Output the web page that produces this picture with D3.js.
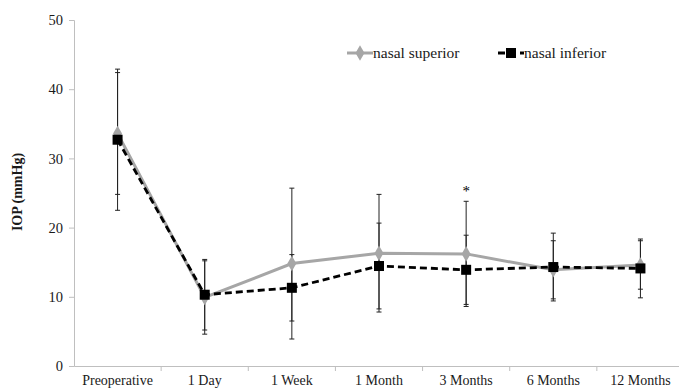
<!DOCTYPE html>
<html>
<head>
<meta charset="utf-8">
<script src="https://cdn.jsdelivr.net/npm/d3@7"></script>
<style>
  html, body { margin: 0; padding: 0; background: #fff; }
  svg { display: block; }
  svg text { font-family: "Liberation Serif", "Times New Roman", "DejaVu Serif", serif !important; }
</style>
</head>
<body>
<svg id="chart" width="679" height="390"></svg>
<script>
// IOP follow-up, mean ± SD per time point
const categories = ["Preoperative", "1 Day", "1 Week", "1 Month", "3 Months", "6 Months", "12 Months"];
const superiorMean = [33.6, 9.9, 14.8, 16.3, 16.2, 13.9, 14.6];
const superiorSD   = [8.8, 5.3, 10.9, 8.5, 7.6, 4.2, 3.5];
const inferiorMean = [32.7, 10.3, 11.3, 14.45, 13.9, 14.3, 14.1];
const inferiorSD   = [10.2, 5.1, 4.8, 6.2, 5.0, 4.9, 4.25];
const yTicks = [0, 10, 20, 30, 40, 50];
const significant = ["3 Months"];
const seriesNames = ["nasal superior", "nasal inferior"];

const svg = d3.select("#chart");
const plotLeft = 74, plotTop = 20, plotBottom = 366, plotRight = 684;

const x = d3.scaleBand().domain(categories).range([plotLeft, plotRight]).paddingInner(0).paddingOuter(0);
const y = d3.scaleLinear().domain([0, 50]).range([plotBottom, plotTop]);
const cx = c => x(c) + x.bandwidth() / 2;

const axisColor = "#bfbfbf";
const textColor = "#1a1a1a";

// y axis
const gy = svg.append("g").attr("transform", `translate(${plotLeft},0)`)
  .call(d3.axisLeft(y).tickValues(yTicks).tickSize(5).tickPadding(6));
gy.select(".domain").attr("stroke", axisColor).attr("stroke-width", 1);
gy.selectAll(".tick line").attr("stroke", axisColor);
gy.selectAll(".tick text").attr("fill", textColor).attr("font-size", 14.5);

// x axis: ticks on category boundaries
const gx = svg.append("g").attr("transform", `translate(0,${plotBottom})`)
  .call(d3.axisBottom(x).tickSize(0).tickPadding(9));
gx.select(".domain").attr("stroke", axisColor).attr("stroke-width", 1);
gx.selectAll(".tick text").attr("fill", textColor).attr("font-size", 14);
gx.selectAll(".boundary").data(categories.slice(1)).enter().append("line")
  .attr("x1", d => x(d)).attr("x2", d => x(d)).attr("y1", 0).attr("y2", 5)
  .attr("stroke", axisColor);

// y axis title
svg.append("text")
  .attr("transform", `translate(22,192) rotate(-90)`)
  .attr("text-anchor", "middle").attr("font-weight", "bold").attr("font-size", 14)
  .attr("fill", textColor).text("IOP (mmHg)");

// error bars
function errorBars(means, sds) {
  const g = svg.append("g").attr("stroke", "#222").attr("stroke-width", 1);
  categories.forEach((c, i) => {
    const xc = cx(c), y1 = y(means[i] + sds[i]), y0 = y(means[i] - sds[i]);
    g.append("line").attr("x1", xc).attr("x2", xc).attr("y1", y1).attr("y2", y0);
    g.append("line").attr("x1", xc - 2.5).attr("x2", xc + 2.5).attr("y1", y1).attr("y2", y1);
    g.append("line").attr("x1", xc - 2.5).attr("x2", xc + 2.5).attr("y1", y0).attr("y2", y0);
  });
}
errorBars(superiorMean, superiorSD);
errorBars(inferiorMean, inferiorSD);

const line = d3.line().x((d, i) => cx(categories[i])).y(d => y(d));

// nasal superior: grey solid with diamonds
svg.append("path").datum(superiorMean).attr("d", line)
  .attr("fill", "none").attr("stroke", "#a6a6a6").attr("stroke-width", 3);
const diamond = d3.symbol().type(d3.symbolDiamond).size(70);
svg.selectAll(".sup").data(superiorMean).enter().append("path")
  .attr("d", diamond).attr("fill", "#a6a6a6")
  .attr("transform", (d, i) => `translate(${cx(categories[i])},${y(d)})`);

// nasal inferior: black dashed with squares
svg.append("path").datum(inferiorMean).attr("d", line)
  .attr("fill", "none").attr("stroke", "#000").attr("stroke-width", 2.8)
  .attr("stroke-dasharray", "7,4");
svg.selectAll(".inf").data(inferiorMean).enter().append("rect")
  .attr("x", (d, i) => cx(categories[i]) - 5).attr("y", d => y(d) - 5)
  .attr("width", 10).attr("height", 10).attr("fill", "#000");

// significance marker
significant.forEach(c => {
  const i = categories.indexOf(c);
  const topVal = Math.max(superiorMean[i] + superiorSD[i], inferiorMean[i] + inferiorSD[i]);
  svg.append("text").attr("x", cx(c)).attr("y", y(topVal) - 5)
    .attr("text-anchor", "middle").attr("font-size", 15)
    .attr("fill", "#000").text("*");
});

// legend
const lg = svg.append("g").attr("font-size", 15.5).attr("fill", textColor);
lg.append("line").attr("x1", 347).attr("x2", 373).attr("y1", 53).attr("y2", 53)
  .attr("stroke", "#a6a6a6").attr("stroke-width", 3);
lg.append("path").attr("d", diamond).attr("fill", "#a6a6a6").attr("transform", "translate(360,53)");
lg.append("text").attr("x", 373).attr("y", 58).text(seriesNames[0]);
lg.append("line").attr("x1", 498).attr("x2", 524).attr("y1", 53).attr("y2", 53)
  .attr("stroke", "#000").attr("stroke-width", 2.8).attr("stroke-dasharray", "7,4");
lg.append("rect").attr("x", 506).attr("y", 48).attr("width", 10).attr("height", 10).attr("fill", "#000");
lg.append("text").attr("x", 524).attr("y", 58).text(seriesNames[1]);
</script>
</body>
</html>
